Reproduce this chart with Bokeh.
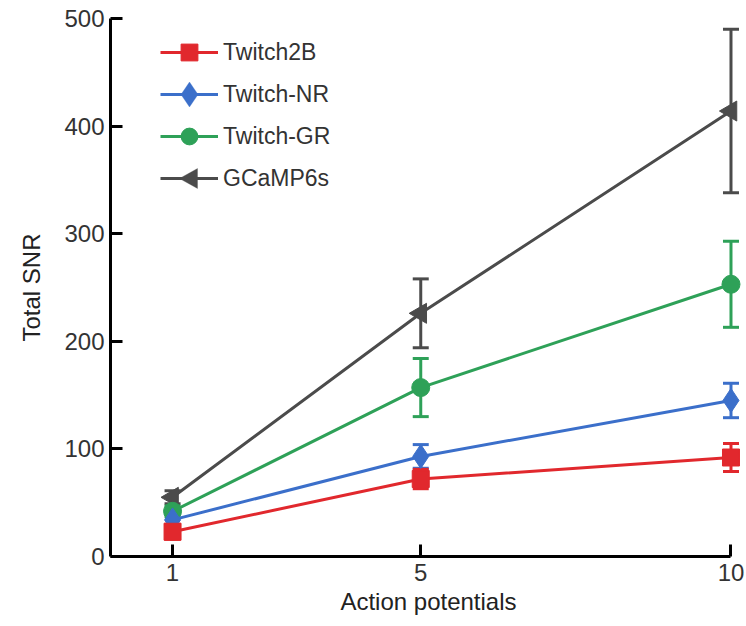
import numpy as np
from bokeh.plotting import figure
from bokeh.models import (Range1d, FixedTicker, Whisker, TeeHead, ColumnDataSource,
                          Legend, LegendItem, PolyAnnotation)
from bokeh.embed import file_html
from bokeh.resources import INLINE

# ---- data ----
action_potentials = [1, 5, 10]
series_names = ["Twitch2B", "Twitch-NR", "Twitch-GR", "GCaMP6s"]
twitch2b_mean = [23, 72, 92]
twitch2b_err = [7, 9, 13]
twitchnr_mean = [34, 93, 145]
twitchnr_err = [5, 11, 16]
twitchgr_mean = [42, 157, 253]
twitchgr_err = [5, 27, 40]
gcamp6s_mean = [55, 226, 414]
gcamp6s_err = [6, 32, 76]
y_ticks = [0, 100, 200, 300, 400, 500]
x_ticks = [1, 5, 10]

colors = {"Twitch2B": "#e1282d", "Twitch-NR": "#3b6fca",
          "Twitch-GR": "#2ea158", "GCaMP6s": "#4b4b4b"}
markers = {"Twitch2B": ("square", 17, 0.0), "Twitch-NR": ("diamond", 24, 0.0),
           "Twitch-GR": ("circle", 18, 0.0), "GCaMP6s": ("triangle", 20, np.pi / 2)}
data = {"Twitch2B": (twitch2b_mean, twitch2b_err),
        "Twitch-NR": (twitchnr_mean, twitchnr_err),
        "Twitch-GR": (twitchgr_mean, twitchgr_err),
        "GCaMP6s": (gcamp6s_mean, gcamp6s_err)}

FONT = "Liberation Sans"
TXT = "#333333"

p = figure(width=746, height=626, x_range=Range1d(0, 10.25), y_range=Range1d(0, 500),
           output_backend="svg", toolbar_location=None,
           min_border_left=110, min_border_right=0, min_border_top=18, min_border_bottom=70)
p.outline_line_color = None
p.grid.visible = False
p.background_fill_color = "white"

for ax in (p.xaxis[0], p.yaxis[0]):
    ax.axis_line_color = "black"
    ax.axis_line_width = 3
    ax.major_tick_line_color = "black"
    ax.major_tick_line_width = 3
    ax.major_tick_in = 12
    ax.major_tick_out = 0
    ax.minor_tick_line_color = None
    ax.major_label_text_font = FONT
    ax.major_label_text_font_size = "24px"
    ax.major_label_text_color = TXT
    ax.axis_label_text_font = FONT
    ax.axis_label_text_font_size = "24px"
    ax.axis_label_text_color = "#222222"
    ax.axis_label_text_font_style = "normal"

p.xaxis.ticker = FixedTicker(ticks=x_ticks)
p.yaxis.ticker = FixedTicker(ticks=y_ticks)
p.xaxis.bounds = (0, 10)
p.yaxis.bounds = (0, 500)
p.xaxis.axis_label = "Action potentials"
p.yaxis.axis_label = "Total SNR"
p.xaxis.major_label_standoff = 7
p.yaxis.major_label_standoff = 6
p.xaxis.axis_label_standoff = 4
p.yaxis.axis_label_standoff = 16

items = {}
for name in ["GCaMP6s", "Twitch-GR", "Twitch-NR", "Twitch2B"]:
    mean, err = data[name]
    c = colors[name]
    src = ColumnDataSource(dict(x=action_potentials, y=mean,
                                upper=[m + e for m, e in zip(mean, err)],
                                lower=[m - e for m, e in zip(mean, err)]))
    w = Whisker(base="x", upper="upper", lower="lower", source=src, dimension="height",
                line_color=c, line_width=3,
                upper_head=TeeHead(size=16, line_color=c, line_width=3),
                lower_head=TeeHead(size=16, line_color=c, line_width=3))
    p.add_layout(w)
    lr = p.line("x", "y", source=src, line_color=c, line_width=3)
    mk, sz, ang = markers[name]
    sr = p.scatter("x", "y", source=src, marker=mk, size=sz, angle=ang,
                   fill_color=c, line_color=c, line_width=1)
    # legend keys for the diamond and the rotated triangle are drawn below at full size
    items[name] = [lr] if name in ("GCaMP6s", "Twitch-NR") else [lr, sr]

legend = Legend(items=[LegendItem(label=n, renderers=items[n]) for n in series_names],
                location=(50, 357), orientation="vertical",
                glyph_width=58, glyph_height=42, spacing=0, padding=0, margin=0,
                label_standoff=5, label_text_font=FONT, label_text_font_size="23px",
                label_text_color=TXT, border_line_color=None, background_fill_alpha=0)
p.add_layout(legend)

# legend key markers (screen units, relative to the frame's bottom-left)
key_x = 79
row_nr = 556 - 94
row_gc = 556 - 178
p.add_layout(PolyAnnotation(xs=[key_x, key_x + 8.5, key_x, key_x - 8.5],
                            ys=[row_nr + 12.5, row_nr, row_nr - 12.5, row_nr],
                            xs_units="screen", ys_units="screen",
                            fill_color=colors["Twitch-NR"], fill_alpha=1,
                            line_color=colors["Twitch-NR"], line_width=1, level="overlay"))
p.add_layout(PolyAnnotation(xs=[key_x - 10, key_x + 8, key_x + 8],
                            ys=[row_gc, row_gc + 10, row_gc - 10],
                            xs_units="screen", ys_units="screen",
                            fill_color=colors["GCaMP6s"], fill_alpha=1,
                            line_color=colors["GCaMP6s"], line_width=1, level="overlay"))

open("out.html", "w").write(file_html(p, INLINE))
